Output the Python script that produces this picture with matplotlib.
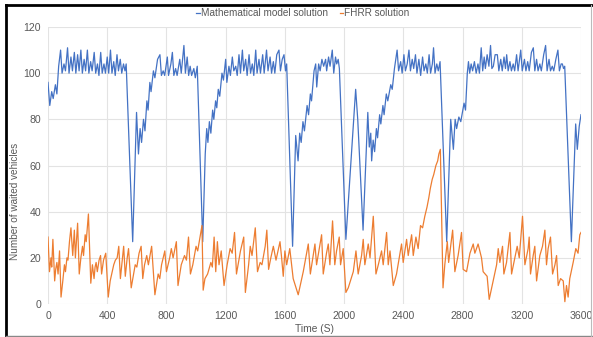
import matplotlib
matplotlib.use('Agg')
import matplotlib.pyplot as plt
from matplotlib.lines import Line2D

plt.rcParams['font.family'] = ['Liberation Sans', 'DejaVu Sans']

# Mathematical model solution (time in s, waited vehicles)
blue_t = [0, 12, 25, 35, 50, 60, 72, 85, 95, 108, 118, 132, 142, 155, 165, 178, 188, 200, 210, 222,
          232, 244, 254, 266, 276, 288, 298, 312, 322, 334, 344, 356, 366, 378, 388, 400, 410, 422, 432, 444,
          454, 466, 476, 488, 498, 510, 520, 528, 572, 598, 611, 622, 632, 645, 655, 668, 676, 688, 696, 712,
          722, 740, 756, 766, 778, 788, 806, 814, 830, 840, 850, 862, 872, 890, 900, 918, 928, 940, 950, 960,
          970, 985, 995, 1008, 1045, 1062, 1072, 1080, 1090, 1100, 1112, 1120, 1132, 1140, 1150, 1160, 1175, 1185, 1200, 1208,
          1222, 1232, 1245, 1255, 1268, 1278, 1290, 1300, 1313, 1322, 1335, 1345, 1358, 1368, 1380, 1390, 1403, 1412, 1425, 1435,
          1450, 1460, 1476, 1486, 1500, 1510, 1522, 1532, 1545, 1560, 1570, 1582, 1594, 1604, 1612, 1652, 1673, 1689, 1700, 1710,
          1722, 1732, 1750, 1760, 1772, 1780, 1797, 1808, 1815, 1828, 1838, 1850, 1862, 1875, 1882, 1895, 1905, 1920, 1930, 1942,
          1950, 1960, 1968, 2012, 2078, 2092, 2128, 2160, 2170, 2180, 2186, 2196, 2206, 2218, 2226, 2240, 2248, 2262, 2270, 2285,
          2295, 2315, 2325, 2340, 2358, 2368, 2382, 2392, 2404, 2414, 2426, 2438, 2448, 2460, 2470, 2482, 2492, 2505, 2517, 2530,
          2540, 2552, 2562, 2574, 2584, 2596, 2604, 2614, 2626, 2636, 2648, 2693, 2720, 2738, 2750, 2760, 2775, 2788, 2810, 2820,
          2832, 2840, 2848, 2858, 2868, 2880, 2892, 2904, 2914, 2926, 2936, 2946, 2954, 2966, 2978, 2989, 2998, 3008, 3020, 3035,
          3045, 3058, 3068, 3080, 3090, 3098, 3108, 3120, 3130, 3142, 3152, 3165, 3175, 3193, 3203, 3218, 3228, 3240, 3250, 3265,
          3278, 3288, 3300, 3310, 3322, 3332, 3348, 3361, 3371, 3384, 3394, 3406, 3416, 3430, 3444, 3454, 3466, 3474, 3482, 3490,
          3535, 3564, 3575, 3588, 3600]
blue_v = [96, 86, 92, 89, 95, 91, 103, 110, 100, 104, 101, 111, 100, 107, 101, 109, 100, 108, 101, 110,
          100, 106, 101, 110, 100, 105, 101, 109, 100, 104, 99, 109, 100, 104, 100, 107, 100, 110, 100, 105,
          99, 108, 101, 106, 100, 104, 101, 104, 27, 83, 65, 76, 70, 80, 75, 88, 84, 96, 92, 101,
          98, 106, 108, 99, 101, 99, 107, 99, 104, 109, 99, 102, 99, 106, 100, 112, 100, 107, 99, 103,
          99, 102, 98, 103, 27, 65, 76, 70, 79, 74, 84, 80, 88, 85, 93, 90, 100, 97, 106, 96,
          103, 99, 107, 101, 103, 99, 108, 100, 110, 101, 106, 99, 108, 100, 104, 99, 110, 100, 106, 100,
          108, 100, 110, 101, 107, 100, 105, 100, 108, 110, 101, 106, 108, 101, 104, 25, 73, 62, 74, 70,
          79, 75, 86, 82, 91, 88, 101, 104, 94, 104, 101, 106, 103, 106, 101, 107, 103, 110, 100, 107,
          104, 106, 102, 28, 93, 80, 32, 83, 68, 74, 62, 71, 66, 76, 72, 82, 78, 86, 82, 91,
          88, 95, 93, 102, 110, 101, 105, 100, 108, 101, 104, 110, 101, 106, 102, 108, 100, 106, 99, 107,
          101, 104, 100, 108, 100, 104, 111, 100, 104, 101, 105, 27, 80, 67, 80, 76, 81, 79, 87, 84,
          100, 105, 100, 104, 101, 105, 100, 104, 100, 111, 101, 107, 102, 108, 103, 112, 102, 103, 108, 108,
          101, 106, 101, 107, 102, 108, 101, 105, 101, 104, 101, 108, 101, 110, 101, 106, 101, 105, 101, 109,
          111, 101, 106, 101, 104, 101, 108, 112, 101, 106, 101, 103, 101, 106, 110, 101, 104, 104, 102, 103,
          27, 78, 67, 77, 82]

# FHRR solution
orange_t = [0, 10, 20, 25, 33, 45, 52, 60, 68, 78, 88, 100, 111, 118, 128, 135, 145, 155, 167, 178,
            185, 200, 211, 222, 233, 240, 251, 258, 273, 289, 300, 311, 318, 325, 333, 345, 355, 362, 375, 390,
            407, 420, 444, 455, 467, 478, 489, 500, 511, 522, 535, 544, 562, 589, 600, 615, 629, 640, 652, 667,
            678, 700, 722, 744, 755, 767, 789, 800, 822, 833, 845, 867, 878, 900, 922, 935, 949, 962, 978, 1000,
            1011, 1040, 1048, 1060, 1078, 1100, 1110, 1122, 1133, 1144, 1155, 1170, 1189, 1210, 1230, 1244, 1260, 1273, 1300, 1322,
            1333, 1355, 1366, 1378, 1400, 1415, 1433, 1445, 1467, 1478, 1490, 1505, 1522, 1540, 1567, 1578, 1589, 1600, 1612, 1633,
            1656, 1690, 1724, 1758, 1772, 1803, 1814, 1848, 1859, 1881, 1893, 1904, 1922, 1937, 1949, 1967, 1976, 1994, 2012, 2028,
            2062, 2080, 2095, 2118, 2129, 2140, 2163, 2175, 2197, 2215, 2231, 2253, 2264, 2287, 2298, 2310, 2332, 2354, 2388, 2399,
            2422, 2433, 2456, 2467, 2485, 2500, 2516, 2530, 2545, 2560, 2572, 2582, 2595, 2605, 2620, 2632, 2640, 2650, 2668, 2680,
            2697, 2706, 2733, 2748, 2770, 2793, 2804, 2827, 2850, 2872, 2883, 2905, 2928, 2939, 2966, 2980, 3007, 3030, 3041, 3052,
            3070, 3079, 3097, 3120, 3131, 3153, 3169, 3183, 3205, 3221, 3243, 3250, 3259, 3277, 3288, 3300, 3322, 3340, 3356, 3367,
            3378, 3394, 3408, 3424, 3435, 3446, 3462, 3480, 3491, 3502, 3513, 3524, 3547, 3565, 3580, 3592, 3600]
orange_v = [29, 14, 20, 16, 28, 10, 15, 18, 13, 23, 3, 10, 17, 14, 20, 19, 27, 33, 21, 32,
            20, 35, 13, 20, 25, 21, 30, 27, 39, 9, 17, 11, 16, 18, 14, 19, 21, 13, 19, 22,
            3, 10, 17, 19, 20, 25, 11, 18, 25, 12, 20, 24, 7, 17, 16, 22, 25, 11, 17, 21,
            17, 25, 4, 13, 11, 17, 23, 14, 20, 24, 20, 27, 8, 17, 21, 19, 29, 13, 17, 25,
            23, 34, 6, 11, 13, 18, 16, 29, 14, 27, 17, 23, 8, 17, 24, 22, 31, 13, 23, 29,
            5, 17, 25, 21, 33, 14, 18, 17, 25, 32, 15, 20, 25, 19, 27, 20, 12, 23, 17, 24,
            11, 4, 14, 26, 13, 26, 17, 30, 13, 22, 26, 17, 36, 17, 23, 29, 17, 24, 5, 7,
            14, 23, 13, 21, 28, 17, 26, 20, 38, 13, 17, 23, 17, 31, 17, 23, 8, 13, 26, 18,
            28, 21, 30, 21, 29, 24, 34, 33, 38, 42, 46, 50, 54, 56, 60, 62, 65, 67, 7, 17,
            27, 18, 32, 14, 21, 31, 15, 14, 22, 26, 22, 26, 20, 14, 12, 2, 10, 17, 24, 18,
            25, 13, 18, 31, 13, 20, 25, 20, 38, 17, 24, 29, 13, 21, 25, 10, 21, 25, 32, 17,
            24, 29, 13, 17, 21, 8, 11, 10, 1, 8, 3, 11, 18, 24, 22, 30, 31]

x_ticks = [0, 400, 800, 1200, 1600, 2000, 2400, 2800, 3200, 3600]
y_ticks = [0, 20, 40, 60, 80, 100, 120]

W, H = 593, 337
fig = plt.figure(figsize=(W / 100, H / 100), dpi=100)
ax = fig.add_axes([48 / W, 33 / H, 533 / W, 277 / H])

ax.plot(blue_t, blue_v, color='#4472C4', linewidth=0.9, label='Mathematical model solution')
ax.plot(orange_t, orange_v, color='#ED7D31', linewidth=0.9, label='FHRR solution')

ax.set_xlim(0, 3600)
ax.set_ylim(0, 120)
ax.set_xticks(x_ticks)
ax.set_yticks(y_ticks)
ax.grid(True, color='#e3e3e3', linewidth=0.8)
ax.set_axisbelow(True)
for s in ax.spines.values():
    s.set_visible(False)
ax.tick_params(length=0, labelsize=7.6, labelcolor='#595959', pad=5)
ax.set_xlabel('Time (S)', fontsize=7.4, color='#595959', labelpad=2)

fig.text(15 / W, 1 - 201 / H, 'Number of waited vehicles', rotation=90,
         ha='center', va='center', fontsize=7.2, color='#595959')

fig.legend(loc='center', bbox_to_anchor=(303 / W, 1 - 13 / H), ncol=2, frameon=False,
           fontsize=7.2, labelcolor='#595959', handlelength=0.35, handletextpad=0.1,
           columnspacing=1.2)

# picture frame
fig.add_artist(Line2D([6 / W, 1], [1 - 5 / H, 1 - 5 / H], color='black', linewidth=2))
fig.add_artist(Line2D([6 / W, 6 / W], [1 - 5 / H, 1 / H], color='black', linewidth=2))
fig.add_artist(Line2D([6 / W, 1], [1.5 / H, 1.5 / H], color='#888888', linewidth=1))
fig.add_artist(Line2D([591 / W, 591 / W], [1 - 5 / H, 1.5 / H], color='#bbbbbb', linewidth=0.8))

fig.savefig('out.png', dpi=100)
